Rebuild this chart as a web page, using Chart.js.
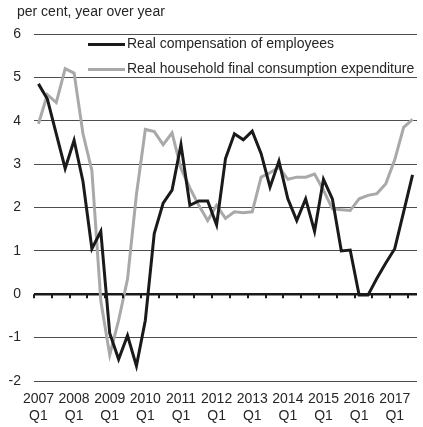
<!DOCTYPE html>
<html>
<head>
<meta charset="utf-8">
<script src="https://cdn.jsdelivr.net/npm/chart.js@4.4.1/dist/chart.umd.min.js"></script>
<style>
  html, body { margin: 0; padding: 0; background: #fff; }
  #wrap { width: 423px; height: 427px; }
</style>
</head>
<body>
<div id="wrap"><canvas id="myChart" width="423" height="427"></canvas></div>
<script>
// quarters 2007 Q1 .. 2017 Q3
const years = ['2007', '2008', '2009', '2010', '2011', '2012', '2013', '2014', '2015', '2016', '2017'];
const quarters = ['Q1', 'Q2', 'Q3', 'Q4'];
const nQuarters = 43;

const compensation = [
  4.85, 4.5, 3.7, 2.9, 3.55, 2.6, 1.05, 1.45,
  -0.9, -1.5, -0.95, -1.65, -0.6, 1.4, 2.1, 2.4,
  3.45, 2.05, 2.15, 2.15, 1.6, 3.13, 3.7, 3.56,
  3.76, 3.24, 2.47, 3.07, 2.2, 1.7, 2.2, 1.45,
  2.65, 2.2, 1.0, 1.02, -0.02, -0.02, 0.37, 0.72,
  1.05, 1.9, 2.75
];
const consumption = [
  3.93, 4.6, 4.42, 5.2, 5.1, 3.7, 2.85, -0.15,
  -1.4, -0.6, 0.35, 2.3, 3.8, 3.75, 3.45, 3.72,
  2.9, 2.45, 2.05, 1.7, 2.05, 1.75, 1.9, 1.88,
  1.9, 2.7, 2.8, 2.93, 2.65, 2.7, 2.7, 2.77,
  2.4, 1.97, 1.95, 1.93, 2.2, 2.28, 2.32, 2.55,
  3.1, 3.85, 4.03
];
const seriesNames = ['Real compensation of employees', 'Real household final consumption expenditure'];
const yTitle = 'per cent, year over year';

const labels = [];
for (let i = 0; i < nQuarters; i++) {
  const y = years[Math.floor(i / 4)];
  const q = quarters[i % 4];
  labels.push(q === 'Q1' ? [y, q] : '');
}

const FONT = "Arial, 'Liberation Sans', sans-serif";
const TXT = '#262626';

// title, legend and the little ticks on the zero line
const decor = {
  id: 'decor',
  afterDatasetsDraw(chart) {
    const { ctx, scales: { x, y } } = chart;
    const y0 = y.getPixelForValue(0);
    const half = (x.getPixelForValue(1) - x.getPixelForValue(0)) / 2;
    ctx.save();
    ctx.strokeStyle = '#1a1a1a';
    ctx.lineWidth = 2;
    ctx.beginPath();
    for (let i = 0; i < nQuarters; i += 2) {
      const px = Math.round(x.getPixelForValue(i) - half);
      ctx.moveTo(px, y0);
      ctx.lineTo(px, y0 + 4);
    }
    ctx.stroke();
    ctx.restore();
  },
  afterDraw(chart) {
    const ctx = chart.ctx;
    ctx.save();
    ctx.fillStyle = TXT;
    ctx.font = "14px Arial, 'Liberation Sans', sans-serif";
    ctx.textBaseline = 'middle';
    ctx.fillText(yTitle, 17, 12);

    chart.data.datasets.forEach((ds, i) => {
      const ly = 44.5 + i * 25;
      ctx.strokeStyle = ds.borderColor;
      ctx.lineWidth = 3;
      ctx.beginPath();
      ctx.moveTo(88, ly);
      ctx.lineTo(125, ly);
      ctx.stroke();
      ctx.fillStyle = TXT;
      ctx.fillText(ds.label, 127, ly);
    });
    ctx.restore();
  }
};

const ctx = document.getElementById('myChart').getContext('2d');
const myChart = new Chart(ctx, {
  type: 'line',
  data: {
    labels: labels,
    datasets: [{
      label: seriesNames[0],
      data: compensation,
      borderColor: '#1a1a1a',
      borderWidth: 3,
      pointRadius: 0,
      tension: 0,
      fill: false
    }, {
      label: seriesNames[1],
      data: consumption,
      borderColor: '#a9a9a9',
      borderWidth: 3,
      pointRadius: 0,
      tension: 0,
      fill: false
    }]
  },
  options: {
    responsive: false,
    animation: false,
    layout: { padding: { top: 34, right: 6, left: 0, bottom: 0 } },
    plugins: {
      legend: { display: false },
      tooltip: { enabled: false }
    },
    scales: {
      x: {
        offset: true,
        grid: { display: false },
        border: { display: false },
        ticks: {
          autoSkip: false,
          maxRotation: 0,
          minRotation: 0,
          padding: 2,
          color: TXT,
          font: { family: FONT, size: 14, lineHeight: 1.2 }
        },
        afterFit: (s) => { s.height = 46; }
      },
      y: {
        min: -2,
        max: 6,
        ticks: {
          stepSize: 1,
          padding: 13,
          color: TXT,
          font: { family: FONT, size: 14 }
        },
        grid: {
          drawTicks: false,
          color: (c) => c.tick && c.tick.value === 0 ? '#1a1a1a' : '#4d4d4d',
          lineWidth: (c) => c.tick && c.tick.value === 0 ? 2.5 : 1
        },
        border: { display: false },
        afterFit: (s) => { s.width = 34; }
      }
    }
  },
  plugins: [decor]
});
</script>
</body>
</html>
